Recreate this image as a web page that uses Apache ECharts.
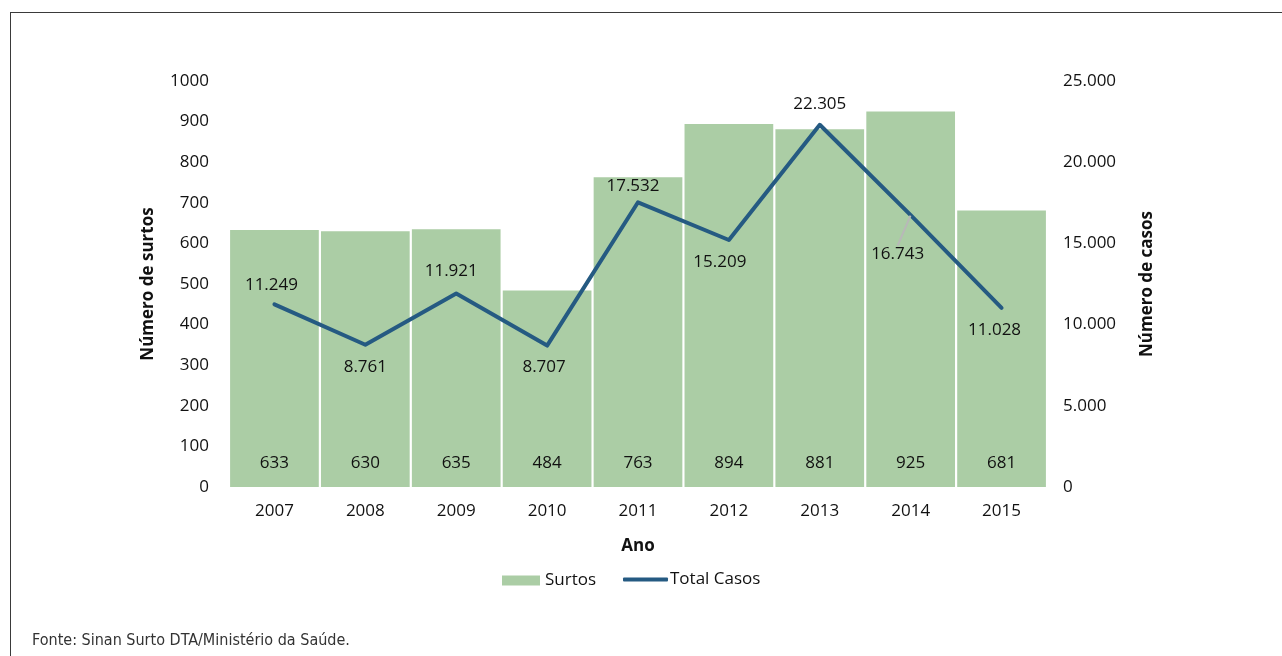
<!DOCTYPE html>
<html>
<head>
<meta charset="utf-8">
<script src="https://cdn.jsdelivr.net/npm/echarts@6/dist/echarts.min.js"></script>
<style>
  html, body { margin: 0; padding: 0; background: #fff; }
  #frame { position: absolute; left: 10px; top: 12px; width: 1272px; height: 644px;
           border-top: 1.5px solid #3a3a3a; border-left: 1.5px solid #3a3a3a; }
  #chart { position: absolute; left: 0; top: 0; width: 1282px; height: 656px; }
  #fonte { position: absolute; left: 32px; top: 630px; font-family: "DejaVu Sans Condensed", "Liberation Sans Narrow", sans-serif;
           font-size: 16px; color: #333; font-stretch: condensed; }
</style>
</head>
<body>
<div id="frame"></div>
<div id="chart"></div>
<div id="fonte">Fonte: Sinan Surto DTA/Ministério da Saúde.</div>
<script>
const anos = ['2007','2008','2009','2010','2011','2012','2013','2014','2015'];
const surtos = [633, 630, 635, 484, 763, 894, 881, 925, 681];
const totalCasos = [11249, 8761, 11921, 8707, 17532, 15209, 22305, 16743, 11028];
const posRotulo = ['top','bottom','top','bottom','top','bottom','top','bottom','bottom'];

const FONT = '"Open Sans", "DejaVu Sans", sans-serif';
const fmt = v => String(v).replace(/\B(?=(\d{3})+(?!\d))/g, '.');
const LINE_COLOR = '#255a82';
const BAR_COLOR = '#abcda5';

const chart = echarts.init(document.getElementById('chart'), null, {renderer: 'canvas'});
chart.setOption({
  animation: false,
  textStyle: { fontFamily: FONT },
  grid: { left: 229, right: 235, top: 81, bottom: 169 },
  legend: [
    {
      left: 497, bottom: 62,
      itemWidth: 38, itemHeight: 10,
      textStyle: { fontFamily: FONT, fontSize: 17, color: '#111' },
      data: [{ name: 'Surtos', icon: 'rect' }]
    },
    {
      left: 618, bottom: 63,
      itemWidth: 45, itemHeight: 4,
      textStyle: { fontFamily: FONT, fontSize: 17, color: '#111', padding: [2, 0, 0, -3] },
      data: [{ name: 'Total Casos', icon: 'roundRect', itemStyle: { color: LINE_COLOR } }]
    }
  ],
  xAxis: {
    type: 'category', data: anos,
    name: 'Ano', nameLocation: 'middle', nameGap: 51,
    nameTextStyle: { fontFamily: FONT, fontSize: 17, fontWeight: 'bold', color: '#111' },
    axisLine: { show: false }, axisTick: { show: false },
    axisLabel: { fontFamily: FONT, fontSize: 17, color: '#111', margin: 16 }
  },
  yAxis: [
    {
      type: 'value', min: 0, max: 1000, interval: 100,
      name: 'Número de surtos', nameLocation: 'middle', nameGap: 72,
      nameTextStyle: { fontFamily: FONT, fontSize: 17, fontWeight: 'bold', color: '#111' },
      splitLine: { show: false }, axisLine: { show: false }, axisTick: { show: false },
      axisLabel: { fontFamily: FONT, fontSize: 17, color: '#111', margin: 20, formatter: v => String(v) }
    },
    {
      type: 'value', min: 0, max: 25000, interval: 5000,
      name: 'Número de casos', nameLocation: 'middle', nameGap: 92,
      nameTextStyle: { fontFamily: FONT, fontSize: 17, fontWeight: 'bold', color: '#111' },
      splitLine: { show: false }, axisLine: { show: false }, axisTick: { show: false },
      axisLabel: { fontFamily: FONT, fontSize: 17, color: '#111', margin: 16, formatter: v => fmt(v) }
    }
  ],
  series: [
    {
      name: 'Surtos', type: 'bar', data: surtos, yAxisIndex: 0,
      barCategoryGap: '2.4%',
      itemStyle: { color: BAR_COLOR },
      label: { show: true, position: 'insideBottom', distance: 15,
               fontFamily: FONT, fontSize: 17, color: '#111' }
    },
    {
      name: 'Total Casos', type: 'line', yAxisIndex: 1, data: totalCasos,
      symbol: 'none', showSymbol: false,
      lineStyle: { color: LINE_COLOR, width: 4, cap: 'round', join: 'round' },
      itemStyle: { color: LINE_COLOR }
    },
    {
      name: 'rotulos', type: 'scatter', yAxisIndex: 1, z: 5,
      data: totalCasos.map((v, i) => ({
        value: v,
        label: { position: posRotulo[i], distance: posRotulo[i] === 'bottom' ? 13 : 10 },
        labelLine: { show: i === 7 }
      })),
      symbolSize: 1, itemStyle: { color: 'rgba(0,0,0,0)', opacity: 1 },
      silent: true,
      label: { show: true, fontFamily: FONT, fontSize: 17, color: '#111', opacity: 1,
               formatter: p => fmt(p.value) },
      labelLine: { lineStyle: { color: '#b8b8b8', width: 2, opacity: 1 } },
      labelLayout: p => {
        const dxs = [-3, 0, -5, -3, -5, -9, 0, -13, -7];
        const dys = [0, 0, -3, 0, 3, 0, -2, 17, 0];
        return p.dataIndex === 7 ? { dx: -13, dy: 17 } : { dx: dxs[p.dataIndex], dy: dys[p.dataIndex] };
      }
    }
  ]
});
</script>
</body>
</html>
